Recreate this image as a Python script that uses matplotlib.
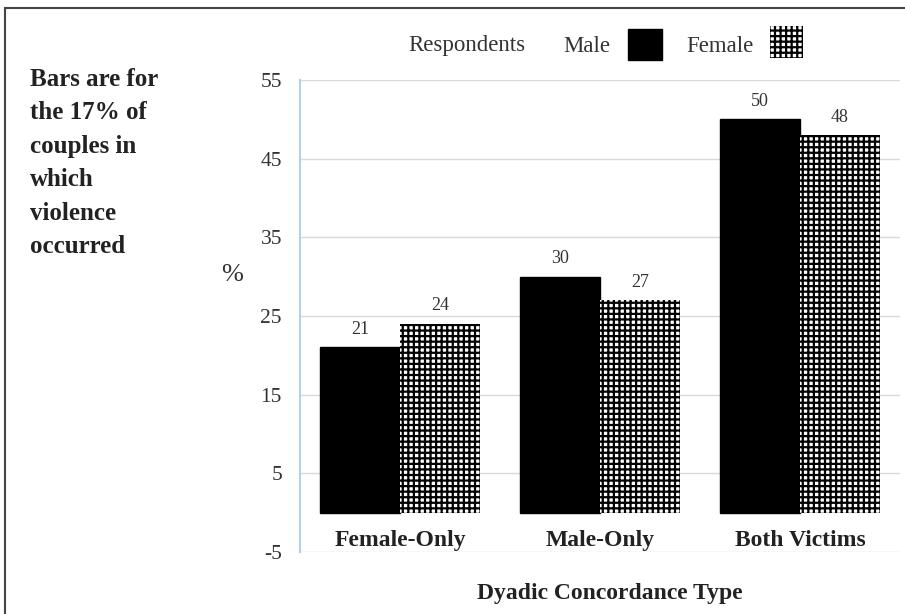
import matplotlib
matplotlib.use("Agg")
import matplotlib.pyplot as plt
from matplotlib.patches import Rectangle
import numpy as np

categories = ["Female-Only", "Male-Only", "Both Victims"]
male = [21, 30, 50]
female = [24, 27, 48]
yticks = [-5, 5, 15, 25, 35, 45, 55]
series_names = ["Male", "Female"]

plt.rcParams['font.family'] = ['Liberation Serif', 'DejaVu Serif']
plt.rcParams['hatch.linewidth'] = 1.6
plt.rcParams['axes.unicode_minus'] = False

fig = plt.figure(figsize=(9.05, 6.14), dpi=100)
ax = fig.add_axes([300/905, 1-552/614, 600/905, 472/614])

x = np.arange(len(categories))
w = 0.4
b1 = ax.bar(x - w/2, male, w, color='black', edgecolor='black', zorder=3)
b2 = ax.bar(x + w/2, female, w, color='white', edgecolor='black', hatch='+++', linewidth=0, zorder=3)
for r, v in zip(b1, male):
    ax.text(r.get_x() + r.get_width()/2, v + 1.2, str(v), ha='center', va='bottom', fontsize=13, color='#333333')
for r, v in zip(b2, female):
    ax.text(r.get_x() + r.get_width()/2, v + 1.2, str(v), ha='center', va='bottom', fontsize=13, color='#333333')

ax.set_xlim(-0.5, 2.5)
ax.set_ylim(-5, 55)
ax.set_yticks(yticks)
ax.tick_params(axis='y', length=0, labelsize=15.5, pad=13, colors='#333333')
ax.set_xticks([])
ax.grid(axis='y', color='#d9d9d9', linewidth=1, zorder=0)
for s in ['top', 'right', 'bottom']:
    ax.spines[s].set_visible(False)
ax.spines['left'].set_color('#b8cfe8')
ax.spines['left'].set_linewidth(1.5)

for i, c in enumerate(categories):
    ax.text(i, -3.5, c, ha='center', va='center', fontsize=17, fontweight='bold', color='#222222')

fig.text(610/905, 1-593/614, "Dyadic Concordance Type", ha='center', va='center', fontsize=17, fontweight='bold', color='#222222')
fig.text(232/905, 1-275/614, "%", ha='center', va='center', fontsize=19, color='#333333')
fig.text(30/905, 1-68/614, "Bars are for\nthe 17% of\ncouples in\nwhich\nviolence\noccurred", ha='left', va='top',
         fontsize=18, fontweight='bold', color='#222222', linespacing=1.58)

# legend
fig.text(408/905, 1-46/614, "Respondents", ha='left', va='center', fontsize=16.5, color='#333333')
fig.text(563/905, 1-46/614, "Male", ha='left', va='center', fontsize=16.5, color='#333333')
fig.patches.append(Rectangle((628/905, 1-60/614), 34/905, 31/614, transform=fig.transFigure,
                             facecolor='black', edgecolor='black'))
fig.text(686/905, 1-46/614, "Female", ha='left', va='center', fontsize=16.5, color='#333333')
fig.patches.append(Rectangle((770/905, 1-58/614), 33/905, 32/614, transform=fig.transFigure,
                             facecolor='white', edgecolor='black', hatch='+++', linewidth=0))

# outer border
fig.patches.append(Rectangle((5/905, -0.01), 1.0, 1-8/614 + 0.01, transform=fig.transFigure,
                             facecolor='none', edgecolor='#444444', linewidth=1.5))

fig.savefig("out.png", dpi=100)
